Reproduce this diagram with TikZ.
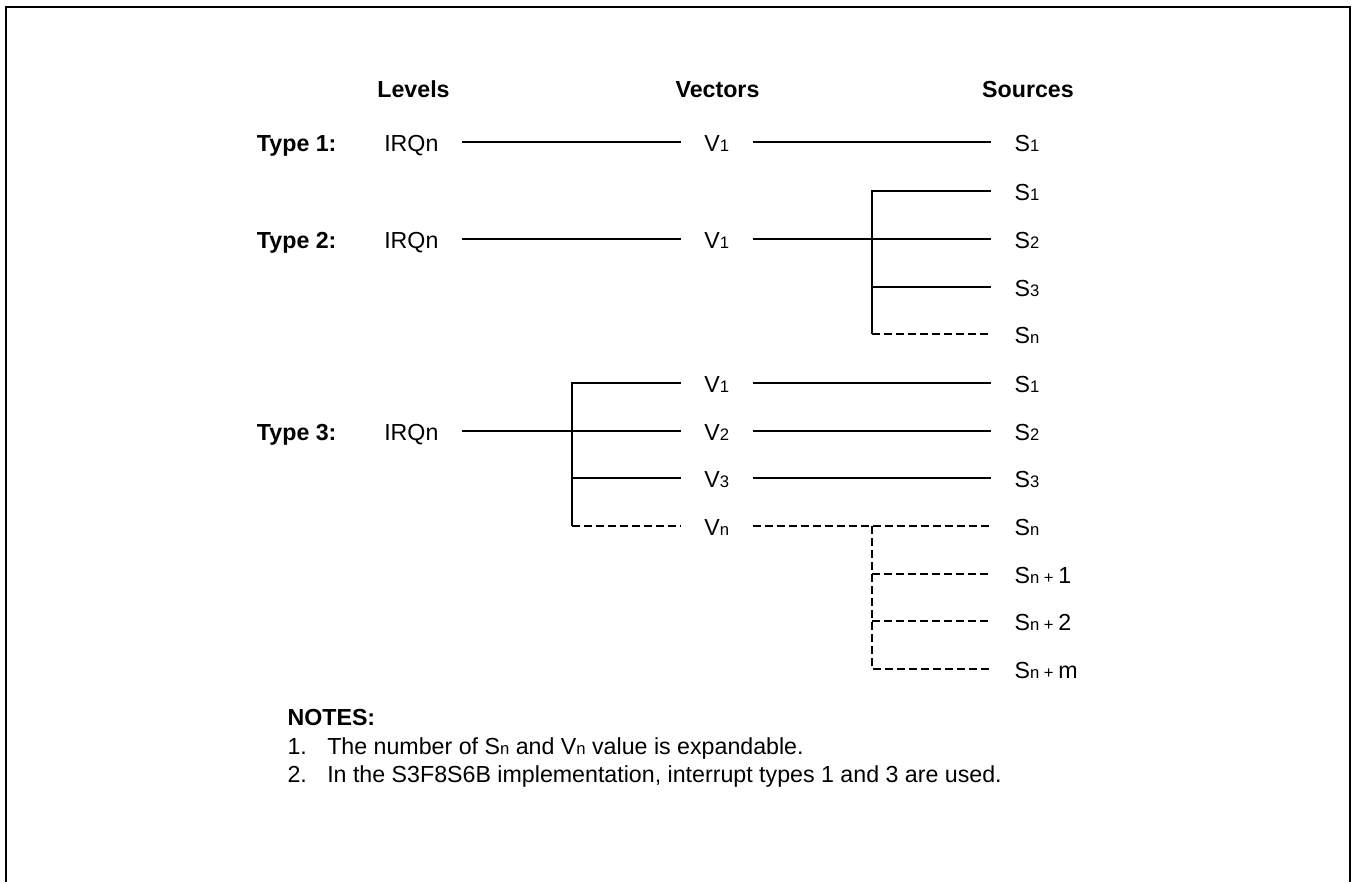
\documentclass[tikz,border=0pt]{standalone}
\usepackage{fontspec}
\setmainfont{Liberation Sans}
\newcommand\myfs{\fontsize{17.4pt}{21.2pt}\selectfont}
\newcommand\sbs[1]{{\fontsize{12.5pt}{13pt}\selectfont #1}}
\begin{document}
\begin{tikzpicture}[x=0.75pt,y=-0.75pt,
  every node/.style={font=\myfs},
  lab/.style={inner xsep=17.5pt, inner ysep=0pt, text height=14.6pt, text depth=0pt},
  plain/.style={inner sep=0pt, anchor=base west},
  typ/.style={inner sep=0pt, anchor=base west, font=\myfs\bfseries},
  hdr/.style={inner sep=0pt, anchor=base, font=\myfs\bfseries},
  conn/.style={line width=1.1pt},
  dconn/.style={line width=1.1pt, dash pattern=on 6pt off 3pt}]
\useasboundingbox (0,0) rectangle (1352,882);
\draw[line width=2pt] (6,882) -- (6,7) -- (1350,7) -- (1350,882);

% headers
\node[hdr] (hlev) at (413.5,97.7) {Levels};
\node[hdr] (hvec) at (717.5,97.7) {Vectors};
\node[hdr] (hsrc) at (1028,97.7) {Sources};

% Type 1
\node[typ] (t1) at (256.7,151.7) {Type 1:};
\node[lab, anchor=east] (i1) at (462,142) {IRQn};
\node[lab, anchor=west] (v1) at (680.7,142) {V\sbs{1}};
\node[lab, anchor=west] (s1) at (991,142) {S\sbs{1}};
\draw[conn] (i1.east) -- (v1.west);
\draw[conn] (v1.east) -- (s1.west);

% Type 2
\node[typ] (t2) at (256.7,248.7) {Type 2:};
\node[lab, anchor=east] (i2) at (462,239) {IRQn};
\node[lab, anchor=west] (v2) at (680.7,239) {V\sbs{1}};
\node[lab, anchor=west] (s21) at (991,191) {S\sbs{1}};
\node[lab, anchor=west] (s22) at (991,239) {S\sbs{2}};
\node[lab, anchor=west] (s23) at (991,287) {S\sbs{3}};
\node[lab, anchor=west] (s2n) at (991,334) {S\sbs{n}};
\coordinate (b2) at (872,191);
\draw[conn] (i2.east) -- (v2.west);
\draw[conn] (v2.east) -- (s22.west);
\draw[conn] (s21.west) -- (b2 |- s21.west) -- (b2 |- s2n.west);
\draw[conn] (b2 |- s23.west) -- (s23.west);
\draw[dconn] (b2 |- s2n.west) -- (s2n.west);

% Type 3
\node[typ] (t3) at (256.7,440.7) {Type 3:};
\node[lab, anchor=east] (i3) at (462,431) {IRQn};
\node[lab, anchor=west] (v31) at (680.7,383) {V\sbs{1}};
\node[lab, anchor=west] (v32) at (680.7,431) {V\sbs{2}};
\node[lab, anchor=west] (v33) at (680.7,478) {V\sbs{3}};
\node[lab, anchor=west] (v3n) at (680.7,526) {V\sbs{n}};
\node[lab, anchor=west] (s31) at (991,383) {S\sbs{1}};
\node[lab, anchor=west] (s32) at (991,431) {S\sbs{2}};
\node[lab, anchor=west] (s33) at (991,478) {S\sbs{3}};
\node[lab, anchor=west] (s3n) at (991,526) {S\sbs{n}};
\node[lab, anchor=west] (s3p1) at (991,574) {S\sbs{n + }1};
\node[lab, anchor=west] (s3p2) at (991,621) {S\sbs{n + }2};
\node[lab, anchor=west] (s3pm) at (991,669) {S\sbs{n + }m};
\coordinate (b3) at (572,383);
\coordinate (c3) at (872,526);
\draw[conn] (v31.west) -- (b3 |- v31.west) -- (b3 |- v3n.west);
\draw[conn] (i3.east) -- (v32.west);
\draw[conn] (b3 |- v33.west) -- (v33.west);
\draw[dconn] (b3 |- v3n.west) -- (v3n.west);
\draw[conn] (v31.east) -- (s31.west);
\draw[conn] (v32.east) -- (s32.west);
\draw[conn] (v33.east) -- (s33.west);
\draw[dconn] (v3n.east) -- (s3n.west);
\draw[dconn] (c3 |- s3n.west) -- (c3 |- s3pm.west) -- (s3pm.west);
\draw[dconn] (c3 |- s3p1.west) -- (s3p1.west);
\draw[dconn] (c3 |- s3p2.west) -- (s3p2.west);

% notes
\node[typ] (notes) at (287.3,725.7) {NOTES:};
\node[plain] (n1num) at (287.3,754) {1.};
\node[plain] (n1) at (327,754) {The number of S\sbs{n} and V\sbs{n} value is expandable.};
\node[plain] (n2num) at (287.3,782.3) {2.};
\node[plain] (n2) at (327,782.3) {In the S3F8S6B implementation, interrupt types 1 and 3 are used.};
\end{tikzpicture}
\end{document}
